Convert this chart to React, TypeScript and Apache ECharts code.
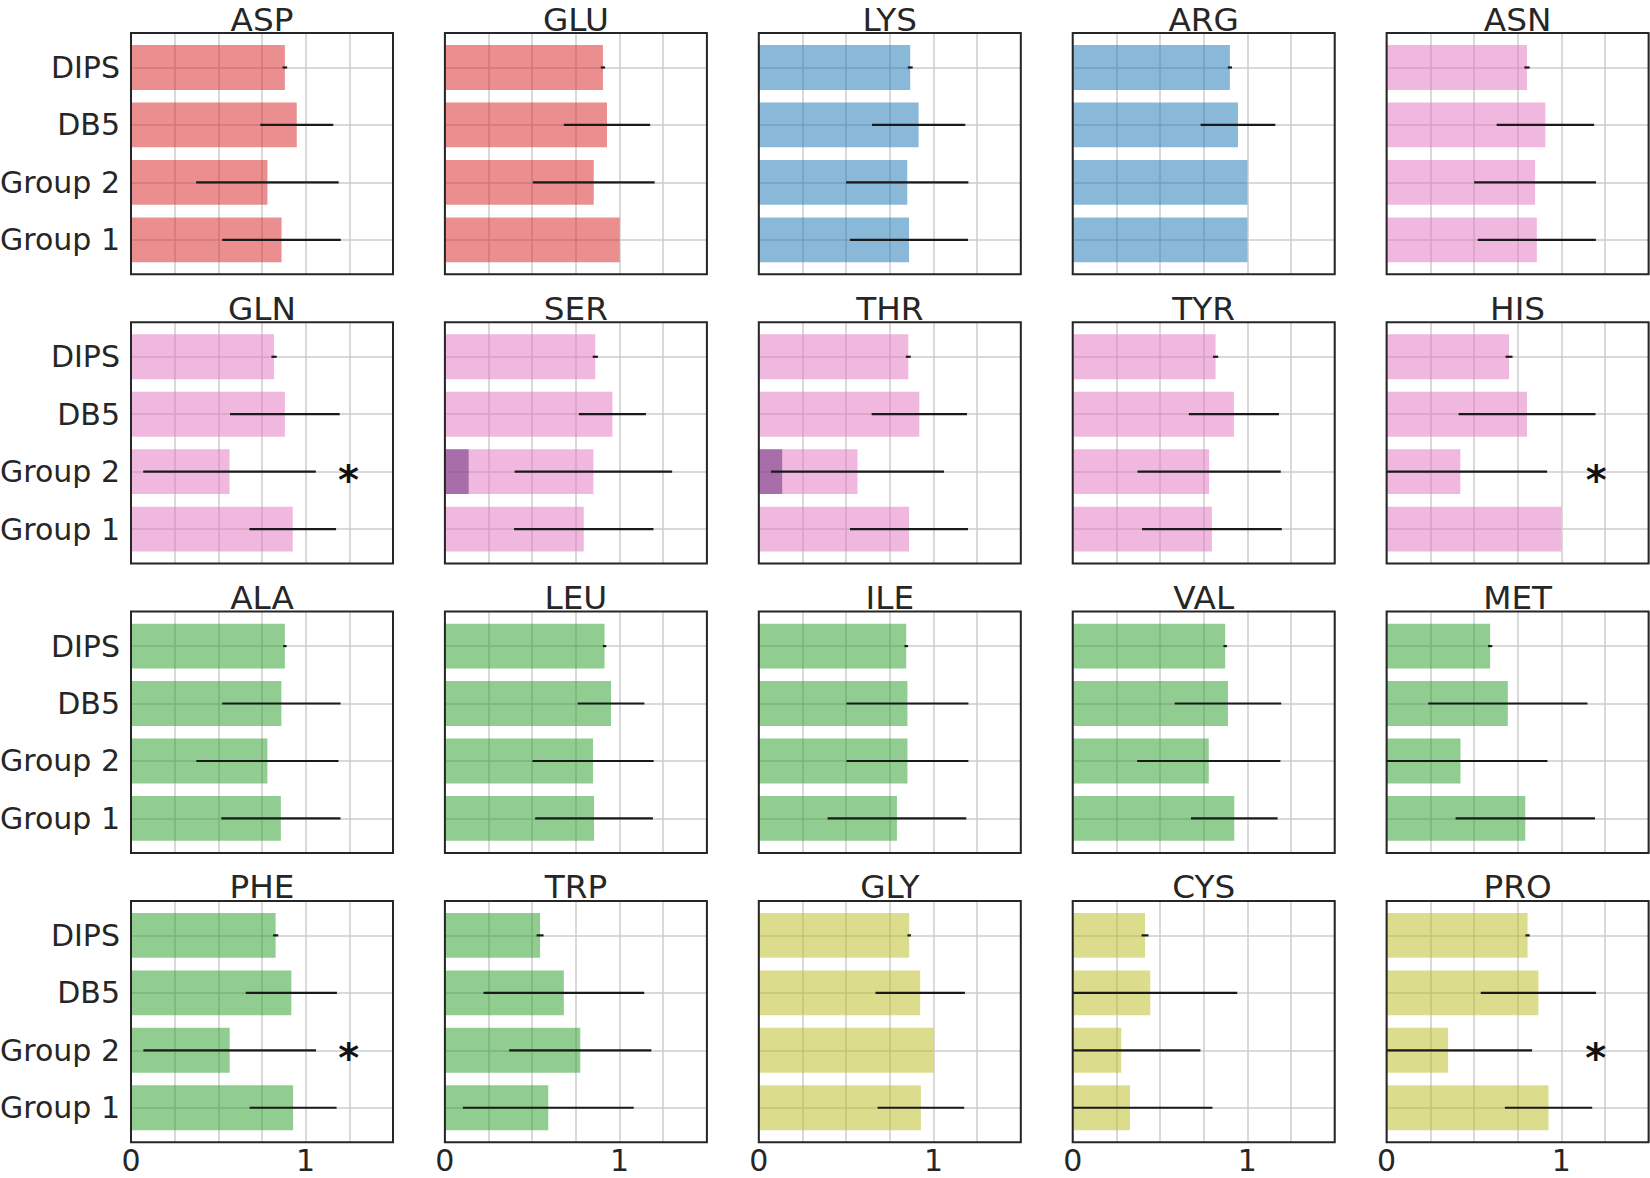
import React, { useEffect, useRef } from 'react';
import * as echarts from 'echarts';

// ---------- data ----------
const categories = ['DIPS', 'DB5', 'Group 2', 'Group 1'];

const residues = [
  'ASP', 'GLU', 'LYS', 'ARG', 'ASN',
  'GLN', 'SER', 'THR', 'TYR', 'HIS',
  'ALA', 'LEU', 'ILE', 'VAL', 'MET',
  'PHE', 'TRP', 'GLY', 'CYS', 'PRO',
];

const residueClass = [
  'acid', 'acid', 'base', 'base', 'polar',
  'polar', 'polar', 'polar', 'polar', 'polar',
  'hydrophobic', 'hydrophobic', 'hydrophobic', 'hydrophobic', 'hydrophobic',
  'hydrophobic', 'hydrophobic', 'special', 'special', 'special',
];

// bar values, order: DIPS, DB5, Group 2, Group 1
const barValues: number[][] = [
  [0.881, 0.949, 0.781, 0.862], // ASP
  [0.905, 0.928, 0.852, 1.0], // GLU
  [0.867, 0.915, 0.85, 0.86], // LYS
  [0.9, 0.946, 1.0, 1.0], // ARG
  [0.804, 0.909, 0.85, 0.86], // ASN
  [0.819, 0.881, 0.564, 0.926], // GLN
  [0.861, 0.959, 0.85, 0.795], // SER
  [0.856, 0.919, 0.565, 0.86], // THR
  [0.818, 0.923, 0.781, 0.797], // TYR
  [0.701, 0.804, 0.422, 1.0], // HIS
  [0.881, 0.861, 0.781, 0.858], // ALA
  [0.914, 0.951, 0.848, 0.854], // LEU
  [0.844, 0.851, 0.851, 0.791], // ILE
  [0.873, 0.889, 0.779, 0.925], // VAL
  [0.593, 0.694, 0.423, 0.794], // MET
  [0.828, 0.918, 0.565, 0.928], // PHE
  [0.545, 0.681, 0.775, 0.592], // TRP
  [0.861, 0.924, 1.0, 0.928], // GLY
  [0.414, 0.444, 0.278, 0.328], // CYS
  [0.807, 0.869, 0.352, 0.927], // PRO
];

// half-width of error bars
const errValues: number[][] = [
  [0.013, 0.209, 0.408, 0.339], // ASP
  [0.012, 0.247, 0.349, 0], // GLU
  [0.014, 0.267, 0.35, 0.338], // LYS
  [0.012, 0.214, 0, 0], // ARG
  [0.015, 0.279, 0.349, 0.338], // ASN
  [0.015, 0.314, 0.494, 0.248], // GLN
  [0.015, 0.192, 0.451, 0.399], // SER
  [0.014, 0.273, 0.495, 0.338], // THR
  [0.015, 0.258, 0.41, 0.4], // TYR
  [0.02, 0.392, 0.497, 0], // HIS
  [0.01, 0.339, 0.407, 0.341], // ALA
  [0.01, 0.191, 0.347, 0.337], // LEU
  [0.01, 0.349, 0.349, 0.397], // ILE
  [0.01, 0.305, 0.41, 0.248], // VAL
  [0.012, 0.456, 0.498, 0.399], // MET
  [0.015, 0.261, 0.494, 0.249], // PHE
  [0.02, 0.46, 0.407, 0.489], // TRP
  [0.01, 0.256, 0, 0.248], // GLY
  [0.02, 0.498, 0.453, 0.472], // CYS
  [0.012, 0.33, 0.481, 0.25], // PRO
];

const darkOverlays = [
  { residue: 'SER', category: 'Group 2', value: 0.136 },
  { residue: 'THR', category: 'Group 2', value: 0.134 },
];

const significanceStars = [
  { residue: 'GLN', category: 'Group 2', x: 1.245 },
  { residue: 'HIS', category: 'Group 2', x: 1.2 },
  { residue: 'PHE', category: 'Group 2', x: 1.247 },
  { residue: 'PRO', category: 'Group 2', x: 1.197 },
];

const xTickLabels = [0, 1];

// ---------- style ----------
const classColor: Record<string, string> = {
  acid: '#d62728',
  base: '#1f77b4',
  polar: '#e377c2',
  hydrophobic: '#2ca02c',
  special: '#bcbd22',
};
const FONT = 'DejaVu Sans';
const TEXT = '#262626';
const GRID_LEFT = 131;
const GRID_TOP = 33;
const GRID_W = 262;
const GRID_H = 241.3;
const STEP_X = 313.9;
const STEP_Y = 289.3;

export default function App() {
  const ref = useRef<HTMLDivElement>(null);

  useEffect(() => {
    document.body.style.margin = '0';
    if (!ref.current) return;
    const chart = echarts.init(ref.current, null, { renderer: 'svg' });

    const grids: any[] = [];
    const xAxes: any[] = [];
    const yAxes: any[] = [];
    const series: any[] = [];
    const titles: any[] = [];
    const graphics: any[] = [];

    residues.forEach((res, i) => {
      const row = Math.floor(i / 5);
      const col = i % 5;
      const left = GRID_LEFT + col * STEP_X;
      const top = GRID_TOP + row * STEP_Y;
      grids.push({
        left,
        top,
        width: GRID_W,
        height: GRID_H,
        show: false,
        containLabel: false,
        outerBoundsMode: 'none',
      });

      xAxes.push({
        gridIndex: i,
        type: 'value',
        min: 0,
        max: 1.5,
        interval: 0.25,
        axisLine: { show: false },
        axisTick: { show: false },
        splitLine: { show: true, lineStyle: { color: '#cccccc', width: 1.5 } },
        axisLabel: {
          show: row === 3,
          formatter: (v: number) => (xTickLabels.includes(v) ? String(v) : ''),
          fontSize: 30,
          lineHeight: 30,
          fontFamily: FONT,
          color: TEXT,
          margin: 3.5,
          showMinLabel: true,
          showMaxLabel: true,
        },
      });

      yAxes.push({
        gridIndex: i,
        type: 'value',
        min: -0.6,
        max: 3.6,
        inverse: true,
        axisLine: { show: false },
        axisTick: { show: false, customValues: [0, 1, 2, 3] },
        splitLine: { show: true, lineStyle: { color: '#cccccc', width: 1.5 } },
        axisLabel: {
          show: col === 0,
          customValues: [0, 1, 2, 3],
          formatter: (v: number) => categories[Math.round(v)] ?? '',
          fontSize: 30,
          fontFamily: FONT,
          color: TEXT,
          margin: 11,
        },
      });

      titles.push({
        text: res,
        left: left + GRID_W / 2,
        top: top - 30,
        textAlign: 'center',
        padding: 0,
        textStyle: { fontSize: 32.7, fontWeight: 'normal', fontFamily: FONT, color: TEXT },
      });

      const color = classColor[residueClass[i]];
      const data = categories.map((cat, ci) => {
        const ov = darkOverlays.find((o) => o.residue === res && o.category === cat);
        const st = significanceStars.find((s) => s.residue === res && s.category === cat);
        return [ci, barValues[i][ci], errValues[i][ci], ov ? ov.value : 0, st ? st.x : 0];
      });

      series.push({
        type: 'custom',
        xAxisIndex: i,
        yAxisIndex: i,
        encode: { x: 1, y: 0 },
        data,
        renderItem: (params: any, api: any) => {
          const ci = api.value(0) as number;
          const v = api.value(1) as number;
          const e = api.value(2) as number;
          const ov = api.value(3) as number;
          const st = api.value(4) as number;
          const yTop = api.coord([0, ci - 0.39])[1];
          const yBot = api.coord([0, ci + 0.39])[1];
          const h = Math.abs(yBot - yTop);
          const y0 = Math.min(yTop, yBot);
          const a = api.coord([0, ci]);
          const b = api.coord([v, ci]);
          const children: any[] = [
            {
              type: 'rect',
              shape: { x: a[0], y: y0, width: b[0] - a[0], height: h },
              style: { fill: color, opacity: 0.52 },
            },
          ];
          if (ov > 0) {
            const c = api.coord([ov, ci]);
            children.push({
              type: 'rect',
              shape: { x: a[0], y: y0, width: c[0] - a[0], height: h },
              style: { fill: 'rgba(110,50,125,0.55)' },
            });
          }
          if (e > 0) {
            const lo = api.coord([Math.max(0, v - e), ci]);
            const hi = api.coord([Math.min(1.5, v + e), ci]);
            children.push({
              type: 'line',
              shape: { x1: lo[0], y1: lo[1], x2: hi[0], y2: hi[1] },
              style: { stroke: '#1a1a1a', lineWidth: 2.2 },
            });
          }
          if (st > 0) {
            const s = api.coord([st, ci]);
            children.push({
              type: 'text',
              x: s[0],
              y: s[1] + 8,
              style: {
                text: '*',
                fill: '#111111',
                fontSize: 40,
                fontWeight: 'bold',
                fontFamily: FONT,
                align: 'center',
                verticalAlign: 'middle',
              },
            });
          }
          return { type: 'group', children };
        },
      });

      graphics.push({
        type: 'rect',
        z: 100,
        shape: { x: left, y: top, width: GRID_W, height: GRID_H },
        style: { fill: 'none', stroke: '#262626', lineWidth: 2 },
      });
    });

    chart.setOption({
      animation: false,
      backgroundColor: '#ffffff',
      title: titles,
      grid: grids,
      xAxis: xAxes,
      yAxis: yAxes,
      series,
      graphic: graphics,
    });

    return () => chart.dispose();
  }, []);

  return <div ref={ref} style={{ width: 1650, height: 1178 }} />;
}
